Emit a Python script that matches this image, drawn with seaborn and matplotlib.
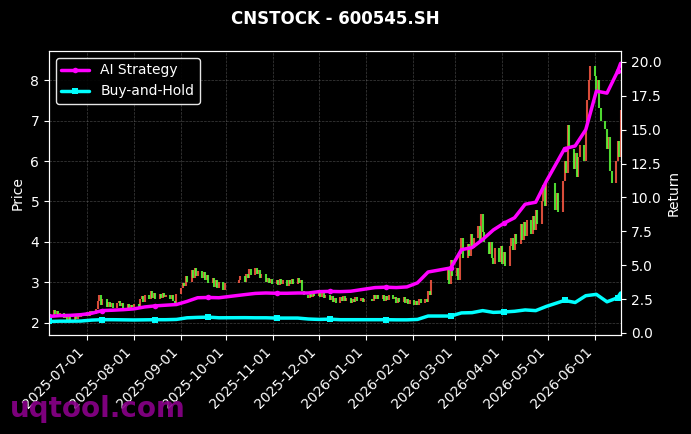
import pandas as pd
import seaborn as sns
import matplotlib
matplotlib.use("Agg")
import matplotlib.pyplot as plt
import matplotlib.dates as mdates

# daily closes
close_jun25 = [2.20, 2.32, 2.22, 2.30, 2.18, 2.25, 2.12, 2.20, 2.06, 2.14, 2.05, 2.16, 2.10, 2.22, 2.14, 2.24, 2.18]
close_jul25 = [2.28, 2.18, 2.30, 2.22, 2.35, 2.55, 2.70, 2.45, 2.58, 2.40, 2.52, 2.38, 2.50, 2.36, 2.48,
               2.55, 2.42, 2.50, 2.36, 2.47, 2.35, 2.44, 2.38]
close_aug25 = [2.46, 2.40, 2.58, 2.66, 2.52, 2.70, 2.60, 2.80, 2.62, 2.74, 2.60, 2.72, 2.62, 2.75, 2.64,
               2.70, 2.58, 2.68, 2.55, 2.50, 2.72]
close_sep25 = [2.85, 2.98, 2.90, 3.15, 3.02, 3.30, 3.12, 3.36, 3.15, 3.28, 3.10, 3.25, 3.05, 3.18, 2.98,
               3.10, 2.88, 3.05, 2.85, 3.00, 2.82, 2.98]
close_oct25 = [3.05, 3.15, 3.02, 3.22, 3.10, 3.32, 3.18, 3.36, 3.22, 3.30, 3.12, 3.20, 3.02, 3.12, 2.98, 3.08, 2.95]
close_nov25 = [3.06, 2.94, 3.08, 2.96, 3.05, 2.92, 3.06, 2.95, 3.08, 2.96, 3.10, 2.98, 3.06, 2.80, 2.70,
               2.62, 2.76, 2.65, 2.78, 2.66]
close_dec25 = [2.76, 2.64, 2.74, 2.62, 2.70, 2.56, 2.66, 2.52, 2.62, 2.50, 2.64, 2.54, 2.66, 2.55, 2.62,
               2.50, 2.60, 2.52, 2.64, 2.55, 2.62, 2.52, 2.60]
close_jan26 = [2.55, 2.68, 2.58, 2.70, 2.60, 2.68, 2.55, 2.66, 2.57, 2.70, 2.58, 2.64, 2.50, 2.62, 2.52,
               2.64, 2.50, 2.58, 2.46, 2.56]
close_feb26 = [2.44, 2.55, 2.45, 2.58, 2.48, 2.60, 2.52, 2.78, 2.70, 3.05, 3.30, 2.95, 3.55, 3.15]
close_mar26 = [3.35, 3.05, 3.70, 4.10, 3.60, 3.95, 3.65, 4.20, 3.85, 4.10, 4.40, 4.05, 4.70, 4.25, 4.00,
               3.70, 4.00, 3.60, 3.45, 3.85, 3.50, 3.90]
close_apr26 = [3.45, 3.75, 3.40, 3.90, 4.10, 3.80, 4.20, 3.95, 4.45, 4.05, 4.50, 4.15, 4.55, 4.20, 4.65,
               4.30, 4.80, 4.45, 5.00, 5.40, 4.90, 5.45]
close_may26 = [4.80, 5.20, 4.75, 5.50, 6.00, 5.70, 6.90, 6.30, 5.80, 6.20, 5.60, 6.10, 6.40, 6.00, 6.85,
               7.50, 8.00, 8.35]
close_jun26 = [8.10, 7.70, 8.00, 7.30, 7.00, 6.80, 6.30, 6.60, 5.75, 5.45, 6.00, 6.50, 6.10, 7.25]
first_open = 2.28

# strategy curves, one value every 5 trading days (plus the last day)
ai_strategy = [1.22, 1.28, 1.30, 1.35, 1.45, 1.65, 1.68, 1.72, 1.78, 1.92, 2.00, 2.05, 2.10, 2.33, 2.60,
               2.62, 2.60, 2.83, 2.92, 2.95, 2.93, 2.93, 2.95, 2.95, 3.05, 3.07, 3.05, 3.08, 3.20, 3.35,
               3.38, 3.35, 3.40, 3.70, 4.50, 4.80, 6.15, 6.30, 6.90, 7.60, 8.10, 8.50, 9.50, 9.65, 11.20,
               13.60, 13.80, 15.00, 17.85, 17.70, 19.30, 19.90]
buy_hold = [0.85, 0.87, 0.87, 0.88, 0.95, 0.98, 0.98, 0.97, 0.96, 0.97, 0.98, 0.98, 1.00, 1.12, 1.15,
            1.17, 1.12, 1.13, 1.12, 1.12, 1.10, 1.10, 1.10, 1.03, 1.00, 1.02, 0.98, 0.98, 0.98, 0.98,
            0.98, 0.97, 0.97, 1.00, 1.25, 1.25, 1.48, 1.50, 1.65, 1.52, 1.55, 1.60, 1.70, 1.65, 1.96,
            2.40, 2.25, 2.75, 2.85, 2.30, 2.60, 2.95]

holidays = pd.to_datetime(['2025-10-01', '2025-10-02', '2025-10-03', '2025-10-06', '2025-10-07', '2025-10-08',
                           '2026-01-01', '2026-01-02',
                           '2026-02-16', '2026-02-17', '2026-02-18', '2026-02-19', '2026-02-20', '2026-02-23',
                           '2026-05-01', '2026-05-04', '2026-05-05'])
days = pd.bdate_range('2025-06-06', '2026-06-18')
days = days[~days.isin(holidays)]

closes = (close_jun25 + close_jul25 + close_aug25 + close_sep25 + close_oct25 + close_nov25 + close_dec25
          + close_jan26 + close_feb26 + close_mar26 + close_apr26 + close_may26 + close_jun26)
assert len(closes) == len(days)

df = pd.DataFrame({'Date': days, 'Close': closes})
df['Open'] = df['Close'].shift(1).fillna(first_open)
up = df['Close'] >= df['Open']

line_dates = list(days[::5]) + [days[-1]]
lines = pd.DataFrame({'Date': line_dates, 'AI Strategy': ai_strategy, 'Buy-and-Hold': buy_hold})

sns.set_style("ticks")
plt.rcParams.update({
    'figure.facecolor': 'black', 'axes.facecolor': 'black', 'axes.edgecolor': 'white',
    'axes.labelcolor': 'white', 'text.color': 'white', 'xtick.color': 'white', 'ytick.color': 'white',
    'font.family': ['DejaVu Sans'], 'font.size': 10,
})

fig = plt.figure(figsize=(6.91, 4.34), dpi=100)
ax = fig.add_axes([0.0709, 0.2281, 0.8278, 0.6544])

# candles (red = up, green = down)
ax.vlines(df['Date'][up], df['Open'][up], df['Close'][up], color='#ff5a45', lw=1.5, alpha=0.85)
ax.vlines(df['Date'][~up], df['Open'][~up], df['Close'][~up], color='#5cff3a', lw=1.5, alpha=0.85)

ax.set_ylim(1.70, 8.72)
ax.set_xlim(pd.Timestamp('2025-06-05 22:00'), pd.Timestamp('2026-06-18 06:00'))
ax.set_ylabel('Price')
ax.grid(True, color='gray', linestyle='--', linewidth=0.5, alpha=0.5)
ax.xaxis.set_major_locator(mdates.MonthLocator())
ax.xaxis.set_major_formatter(mdates.DateFormatter('%Y-%m-%d'))
plt.setp(ax.get_xticklabels(), rotation=45, ha='right', rotation_mode='default')

ax2 = ax.twinx()
sns.lineplot(data=lines, x='Date', y='AI Strategy', ax=ax2, color='#ff00ff', lw=2.5,
             marker='o', markersize=4, markevery=5, markeredgewidth=0, label='AI Strategy')
sns.lineplot(data=lines, x='Date', y='Buy-and-Hold', ax=ax2, color='#00ffff', lw=2.5,
             marker='s', markersize=4, markevery=5, markeredgewidth=0, label='Buy-and-Hold')
ax2.set_ylim(-0.15, 20.81)
ax2.set_ylabel('Return')
ax2.set_xlim(ax.get_xlim())
ax2.legend(loc='upper left', facecolor='black', edgecolor='white', labelcolor='white', framealpha=0.9)

fig.suptitle('CNSTOCK - 600545.SH', x=0.485, y=0.977, fontsize=12, fontweight='bold', color='white')
fig.text(0.014, 0.039, 'uqtool.com', fontsize=20, fontweight='bold', color='#8b008b', alpha=0.9,
         va='baseline', zorder=10)

fig.savefig('out.png', dpi=100, facecolor='black')
